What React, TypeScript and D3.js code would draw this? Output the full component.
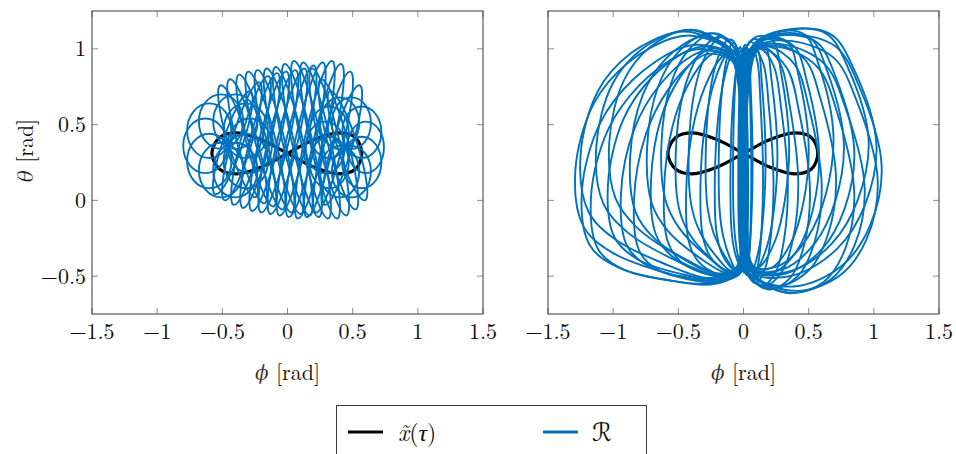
import React from "react";
import * as d3 from "d3";

// ---------- axes ----------
const xTicks = [-1.5, -1, -0.5, 0, 0.5, 1, 1.5];
const yTicks = [-0.5, 0, 0.5, 1];
const xDomain: [number, number] = [-1.5, 1.5];
const yDomain: [number, number] = [-0.75, 1.25];

// ---------- reference orbit x~(tau): figure-eight ----------
const refPhi = [0, -0.2, -0.39, -0.52, -0.58, -0.52, -0.39, -0.2, 0, 0.2, 0.39, 0.52, 0.57, 0.52, 0.39, 0.2];
const refTheta = [0.31, 0.4, 0.445, 0.415, 0.31, 0.205, 0.175, 0.22, 0.31, 0.4, 0.445, 0.415, 0.31, 0.205, 0.175, 0.22];

// ---------- left panel: trajectory loops ----------
// rosette around the left lobe
const rosLCx = [-0.29, -0.32, -0.4, -0.51, -0.6, -0.63, -0.6, -0.51, -0.4, -0.32];
const rosLCy = [0.36, 0.46, 0.52, 0.52, 0.46, 0.36, 0.26, 0.2, 0.2, 0.26];
const rosLRx = [0.17, 0.17, 0.17, 0.17, 0.17, 0.17, 0.17, 0.17, 0.17, 0.17];
const rosLRy = [0.18, 0.18, 0.18, 0.18, 0.18, 0.18, 0.18, 0.18, 0.18, 0.18];
// rosette around the right lobe
const rosRCx = [0.6, 0.57, 0.49, 0.4, 0.32, 0.29, 0.32, 0.4, 0.49, 0.57];
const rosRCy = [0.35, 0.45, 0.51, 0.51, 0.45, 0.35, 0.25, 0.19, 0.19, 0.25];
const rosRRx = [0.14, 0.15, 0.15, 0.15, 0.15, 0.15, 0.15, 0.15, 0.15, 0.15];
const rosRRy = [0.17, 0.17, 0.17, 0.17, 0.17, 0.17, 0.17, 0.17, 0.17, 0.17];
// tall loops across the middle, leaning right
const midACx = [-0.42, -0.35, -0.28, -0.21, -0.14, -0.07, 0, 0.07, 0.14, 0.21, 0.28, 0.35, 0.42];
const midATop = [0.72, 0.78, 0.82, 0.84, 0.85, 0.86, 0.87, 0.89, 0.91, 0.92, 0.9, 0.85, 0.76];
const midABot = [0.04, 0.0, -0.03, -0.05, -0.07, -0.08, -0.09, -0.1, -0.11, -0.12, -0.11, -0.08, -0.03];
// tall loops across the middle, leaning left
const midBCx = [-0.38, -0.31, -0.24, -0.17, -0.1, -0.03, 0.04, 0.11, 0.18, 0.25, 0.32, 0.39, 0.46];
const midBTop = [0.76, 0.8, 0.83, 0.85, 0.86, 0.87, 0.88, 0.9, 0.92, 0.91, 0.87, 0.8, 0.72];
const midBBot = [0.02, -0.02, -0.04, -0.06, -0.08, -0.09, -0.1, -0.11, -0.12, -0.12, -0.1, -0.06, 0.0];

// ---------- right panel: two families of D-shaped loops ----------
// outer loop of the left family
const lobeLPhi = [0, -0.03, -0.12, -0.38, -0.55, -0.88, -1.14, -1.28, -1.22, -1.01, -0.63, -0.25, -0.04, 0];
const lobeLTheta = [0.27, 0.8, 0.99, 1.085, 1.07, 0.91, 0.64, 0.2, -0.17, -0.34, -0.47, -0.54, -0.47, -0.15];
const famLReach = [-1.3, -1.27, -1.24, -1.19, -1.13, -1.07, -1.01, -0.95, -0.89, -0.83, -0.77, -0.71, -0.65, -0.59, -0.53, -0.47, -0.41, -0.35, -0.29, -0.23, -0.17, -0.12, -0.08, -0.05];
const famLHeight = [1, 0.98, 0.99, 0.96, 0.98, 0.95, 0.97, 0.94, 0.96, 0.93, 0.96, 0.93, 0.95, 0.92, 0.95, 0.92, 0.94, 0.92, 0.93, 0.91, 0.92, 0.9, 0.9, 0.9];
const famLTilt = [0, -0.14, 0.1, -0.18, 0.15, -0.1, 0.18, -0.16, 0.08, -0.2, 0.14, -0.08, 0.16, -0.14, 0.1, -0.15, 0.12, -0.1, 0.1, -0.07, 0.06, -0.04, 0.03, 0];
const famLEdge = [0.01, 0.03, -0.01, 0.02, 0.0, 0.03, -0.02, 0.01, 0.02, -0.01, 0.03, 0.0, 0.02, -0.02, 0.01, 0.03, -0.01, 0.02, 0.0, 0.01, -0.02, 0.02, 0.0, 0.01];
// outer loop of the right family
const lobeRPhi = [0, 0.03, 0.12, 0.38, 0.71, 0.89, 1.06, 0.97, 0.76, 0.43, 0.12, 0.02, 0];
const lobeRTheta = [0.27, 0.8, 1.04, 1.095, 1.015, 0.75, 0.226, -0.17, -0.43, -0.565, -0.52, -0.35, -0.1];
const famRReach = [1.07, 1.05, 1.02, 0.98, 0.93, 0.88, 0.83, 0.78, 0.73, 0.68, 0.63, 0.58, 0.53, 0.48, 0.43, 0.38, 0.33, 0.28, 0.23, 0.18, 0.13, 0.09, 0.06, 0.04];
const famRHeight = [1, 0.98, 0.99, 0.96, 0.98, 0.95, 0.97, 0.94, 0.96, 0.93, 0.96, 0.93, 0.95, 0.92, 0.95, 0.92, 0.94, 0.92, 0.93, 0.91, 0.92, 0.9, 0.9, 0.9];
const famRTilt = [0, 0.14, -0.1, 0.17, -0.15, 0.1, -0.18, 0.15, -0.08, 0.2, -0.13, 0.08, -0.16, 0.13, -0.1, 0.15, -0.12, 0.1, -0.1, 0.07, -0.06, 0.04, -0.03, 0];
const famREdge = [-0.01, -0.03, 0.01, -0.02, 0.0, -0.03, 0.02, -0.01, -0.02, 0.01, -0.03, 0.0, -0.02, 0.02, -0.01, -0.03, 0.01, -0.02, 0.0, -0.01, 0.02, -0.02, 0.0, -0.01];

const BLUE = "#0072bd";
const FONT = "'Latin Modern Roman', 'Liberation Serif', 'DejaVu Serif', serif";
const GREEK = "'DejaVu Serif', serif";

type Pt = [number, number];

// four conjugate anchor points of a (sheared) ellipse
function ellipseAnchors(cx: number, cy: number, rx: number, ry: number, sk: number): Pt[] {
  return [
    [cx - rx, cy],
    [cx + sk, cy + ry],
    [cx + rx, cy],
    [cx - sk, cy - ry],
  ];
}

// one loop of a family: the outer outline squeezed to the given reach
function lobeLoop(tPhi: number[], tTheta: number[], reach: number, h: number, tilt: number, edge: number): Pt[] {
  const outer = d3.max(tPhi.map(Math.abs)) as number;
  return tPhi.map((p, i) => {
    const u = Math.abs(p) / outer;
    return [edge + reach * u, 0.27 + (tTheta[i] - 0.27) * h + tilt * u] as Pt;
  });
}

const leftLoops: Pt[][] = [
  ...rosLCx.map((cx, i) => ellipseAnchors(cx, rosLCy[i], rosLRx[i], rosLRy[i], 0)),
  ...rosRCx.map((cx, i) => ellipseAnchors(cx, rosRCy[i], rosRRx[i], rosRRy[i], 0)),
  ...midACx.map((cx, i) => ellipseAnchors(cx, (midATop[i] + midABot[i]) / 2, 0.08, (midATop[i] - midABot[i]) / 2, 0.13)),
  ...midBCx.map((cx, i) => ellipseAnchors(cx, (midBTop[i] + midBBot[i]) / 2, 0.08, (midBTop[i] - midBBot[i]) / 2, -0.13)),
];

const rightLoops: Pt[][] = [
  ...famLReach.map((r, i) => lobeLoop(lobeLPhi, lobeLTheta, r, famLHeight[i], famLTilt[i], famLEdge[i])),
  ...famRReach.map((r, i) => lobeLoop(lobeRPhi, lobeRTheta, r, famRHeight[i], famRTilt[i], famREdge[i])),
];

const refPts: Pt[] = refPhi.map((p, i) => [p, refTheta[i]]);

const fmt = (v: number) => (v < 0 ? "\u2212" + String(-v) : String(v));

interface PanelProps {
  id: string;
  left: number;
  top: number;
  width: number;
  height: number;
  loops: Pt[][];
  curve: d3.CurveFactory;
  showYLabels: boolean;
}

function Panel({ id, left, top, width, height, loops, curve, showYLabels }: PanelProps) {
  const x = d3.scaleLinear().domain(xDomain).range([left, left + width]);
  const y = d3.scaleLinear().domain(yDomain).range([top + height, top]);
  const loopLine = d3
    .line<Pt>()
    .x((d) => x(d[0]))
    .y((d) => y(d[1]))
    .curve(curve);
  const refLine = d3
    .line<Pt>()
    .x((d) => x(d[0]))
    .y((d) => y(d[1]))
    .curve(d3.curveCatmullRomClosed.alpha(0.5));
  const tl = 6;
  const tickColor = "#8c8c8c";
  return (
    <g>
      <defs>
        <clipPath id={id}>
          <rect x={left} y={top} width={width} height={height} />
        </clipPath>
      </defs>
      <g clipPath={`url(#${id})`}>
        <path d={refLine(refPts) as string} fill="none" stroke="#000" strokeWidth={3.2} strokeLinejoin="round" />
        {loops.map((pts, i) => (
          <path key={i} d={loopLine(pts) as string} fill="none" stroke={BLUE} strokeWidth={1.9} />
        ))}
      </g>
      {xTicks.map((t) => (
        <g key={"x" + t}>
          <line x1={x(t)} x2={x(t)} y1={top + height} y2={top + height - tl} stroke={tickColor} />
          <line x1={x(t)} x2={x(t)} y1={top} y2={top + tl} stroke={tickColor} />
          <text x={x(t)} y={top + height + 25} textAnchor="middle" fontSize={22} fontFamily={FONT} fill="#111">
            {fmt(t)}
          </text>
        </g>
      ))}
      {yTicks.map((t) => (
        <g key={"y" + t}>
          <line x1={left} x2={left + tl} y1={y(t)} y2={y(t)} stroke={tickColor} />
          <line x1={left + width} x2={left + width - tl} y1={y(t)} y2={y(t)} stroke={tickColor} />
          {showYLabels && (
            <text x={left - 6} y={y(t)} dy="0.34em" textAnchor="end" fontSize={22} fontFamily={FONT} fill="#111">
              {fmt(t)}
            </text>
          )}
        </g>
      ))}
      <rect x={left} y={top} width={width} height={height} fill="none" stroke="#3a3a3a" strokeWidth={1} />
      <text x={left + width / 2} y={top + height + 66} textAnchor="middle" fontSize={22} fontFamily={FONT} fill="#111">
        <tspan fontStyle="italic" fontFamily={GREEK} fontSize={20} stroke="#fff" strokeWidth={0.3}>
          {"\u03D5"}
        </tspan>
        <tspan>{" [rad]"}</tspan>
      </text>
      {showYLabels && (
        <text
          transform={`translate(${left - 59},${top + height / 2 - 12}) rotate(-90)`}
          textAnchor="middle"
          fontSize={22}
          fontFamily={FONT}
          fill="#111"
        >
          <tspan fontStyle="italic" fontFamily={GREEK} fontSize={20} stroke="#fff" strokeWidth={0.3}>
            {"\u03B8"}
          </tspan>
          <tspan>{" [rad]"}</tspan>
        </text>
      )}
    </g>
  );
}

export default function App() {
  const ellipseCurve = d3.curveCardinalClosed.tension(-0.66);
  const lobeCurve = d3.curveCatmullRomClosed.alpha(0.5);
  return (
    <svg width={956} height={454} style={{ position: "absolute", left: 0, top: 0, background: "#fff" }}>
      <rect x={0} y={0} width={956} height={454} fill="#fff" />
      <Panel id="clipA" left={92} top={11} width={391} height={303} loops={leftLoops} curve={ellipseCurve} showYLabels={true} />
      <Panel id="clipB" left={548} top={11} width={391} height={303} loops={rightLoops} curve={lobeCurve} showYLabels={false} />
      {/* legend */}
      <g>
        <rect x={336.5} y={405.5} width={310} height={70} fill="#fff" stroke="#3a3a3a" strokeWidth={1} />
        <line x1={348} x2={383} y1={432} y2={432} stroke="#000" strokeWidth={3.2} />
        <text x={398} y={441} fontSize={24} fontFamily={FONT} fill="#111">
          <tspan fontStyle="italic">{"x\u0303"}</tspan>
          <tspan>(</tspan>
          <tspan fontStyle="italic">{"\u03C4"}</tspan>
          <tspan>)</tspan>
        </text>
        <line x1={543} x2={578} y1={432} y2={432} stroke={BLUE} strokeWidth={3.2} />
        <text x={592} y={441} fontSize={25} fontFamily="'DejaVu Serif', 'DejaVu Sans', serif" fill="#111">
          {"\u211B"}
        </text>
      </g>
    </svg>
  );
}
